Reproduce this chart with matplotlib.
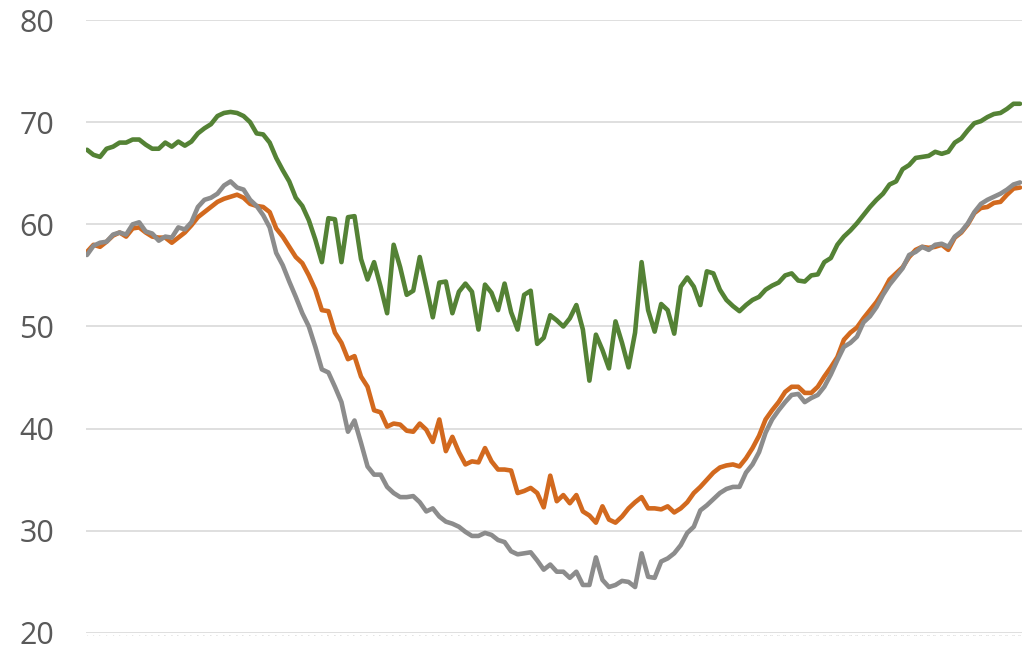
import matplotlib
matplotlib.use("Agg")
import matplotlib.pyplot as plt

# monthly series, 144 points
green = [67.3, 66.8, 66.6, 67.4, 67.6, 68.0, 68.0, 68.3, 68.3, 67.8,
         67.4, 67.4, 68.0, 67.6, 68.1, 67.7, 68.1, 68.9, 69.4, 69.8,
         70.6, 70.9, 71.0, 70.9, 70.6, 70.0, 68.9, 68.8, 68.0, 66.5,
         65.3, 64.2, 62.6, 61.8, 60.4, 58.5, 56.3, 60.6, 60.5, 56.3,
         60.7, 60.8, 56.6, 54.6, 56.3, 53.9, 51.3, 58.0, 55.8, 53.1,
         53.5, 56.8, 53.9, 50.9, 54.3, 54.4, 51.3, 53.4, 54.2, 53.4,
         49.7, 54.1, 53.3, 51.6, 54.2, 51.4, 49.7, 53.1, 53.5, 48.3,
         48.9, 51.1, 50.6, 50.0, 50.8, 52.1, 49.7, 44.7, 49.2, 47.7,
         45.9, 50.5, 48.4, 46.0, 49.4, 56.3, 51.6, 49.5, 52.2, 51.6,
         49.3, 53.9, 54.8, 53.9, 52.1, 55.4, 55.2, 53.6, 52.6, 52.0,
         51.5, 52.1, 52.6, 52.9, 53.6, 54.0, 54.3, 55.0, 55.2, 54.5,
         54.4, 55.0, 55.1, 56.3, 56.7, 58.0, 58.8, 59.4, 60.1, 60.9,
         61.7, 62.4, 63.0, 63.9, 64.2, 65.4, 65.8, 66.5, 66.6, 66.7,
         67.1, 66.9, 67.1, 68.0, 68.4, 69.2, 69.9, 70.1, 70.5, 70.8,
         70.9, 71.3, 71.8, 71.8]

orange = [57.3, 58.0, 57.8, 58.3, 58.9, 59.2, 58.8, 59.6, 59.7, 59.2,
          58.8, 58.7, 58.7, 58.2, 58.7, 59.2, 59.9, 60.7, 61.2, 61.7,
          62.2, 62.5, 62.7, 62.9, 62.6, 62.0, 61.8, 61.7, 61.2, 59.6,
          58.8, 57.8, 56.8, 56.2, 55.0, 53.6, 51.6, 51.5, 49.4, 48.4,
          46.8, 47.1, 45.1, 44.1, 41.8, 41.6, 40.2, 40.5, 40.4, 39.8,
          39.7, 40.5, 39.9, 38.7, 40.9, 37.8, 39.2, 37.7, 36.5, 36.8,
          36.7, 38.1, 36.8, 36.0, 36.0, 35.9, 33.7, 33.9, 34.2, 33.7,
          32.3, 35.4, 32.9, 33.5, 32.7, 33.5, 31.9, 31.5, 30.8, 32.4,
          31.1, 30.8, 31.4, 32.2, 32.8, 33.3, 32.2, 32.2, 32.1, 32.4,
          31.8, 32.2, 32.8, 33.7, 34.3, 35.0, 35.7, 36.2, 36.4, 36.5,
          36.3, 37.1, 38.1, 39.3, 40.9, 41.8, 42.6, 43.6, 44.1, 44.1,
          43.5, 43.5, 44.1, 45.1, 46.0, 47.0, 48.7, 49.4, 49.9, 50.8,
          51.6, 52.4, 53.4, 54.6, 55.2, 55.8, 56.8, 57.5, 57.8, 57.7,
          57.8, 58.0, 57.5, 58.7, 59.2, 60.0, 61.1, 61.6, 61.7, 62.1,
          62.2, 62.9, 63.5, 63.6]

gray = [57.0, 57.9, 58.2, 58.3, 59.0, 59.2, 59.0, 60.0, 60.2, 59.3,
        59.1, 58.4, 58.8, 58.7, 59.7, 59.5, 60.2, 61.7, 62.4, 62.6,
        63.0, 63.8, 64.2, 63.6, 63.4, 62.4, 61.8, 60.9, 59.7, 57.2,
        56.0, 54.4, 52.9, 51.3, 50.0, 48.0, 45.8, 45.5, 44.1, 42.6,
        39.7, 40.8, 38.6, 36.3, 35.5, 35.5, 34.3, 33.7, 33.3, 33.3,
        33.4, 32.8, 31.9, 32.2, 31.4, 30.9, 30.7, 30.4, 29.9, 29.5,
        29.5, 29.8, 29.6, 29.1, 28.9, 28.0, 27.7, 27.8, 27.9, 27.1,
        26.2, 26.7, 26.0, 26.0, 25.4, 26.0, 24.7, 24.7, 27.4, 25.2,
        24.5, 24.7, 25.1, 25.0, 24.5, 27.8, 25.5, 25.4, 27.0, 27.3,
        27.8, 28.6, 29.8, 30.4, 32.0, 32.5, 33.1, 33.7, 34.1, 34.3,
        34.3, 35.7, 36.5, 37.7, 39.6, 40.9, 41.8, 42.6, 43.3, 43.4,
        42.6, 43.0, 43.3, 44.1, 45.3, 46.7, 48.0, 48.4, 49.0, 50.4,
        51.0, 51.9, 53.1, 54.1, 54.9, 55.7, 57.0, 57.3, 57.8, 57.5,
        58.0, 58.1, 57.8, 58.8, 59.3, 60.1, 61.2, 62.0, 62.4, 62.7,
        63.0, 63.4, 63.9, 64.1]

y_ticks = [20, 30, 40, 50, 60, 70, 80]

x = list(range(len(green)))

fig = plt.figure(figsize=(10.26, 6.5), dpi=100)
ax = fig.add_axes([86 / 1026, 17 / 650, 936 / 1026, 613 / 650])

ax.plot(x, green, color='#548235', lw=3.3, solid_joinstyle='round', solid_capstyle='round')
ax.plot(x, orange, color='#D2691E', lw=3.3, solid_joinstyle='round', solid_capstyle='round')
ax.plot(x, gray, color='#8C8C8C', lw=3.3, solid_joinstyle='round', solid_capstyle='round')

ax.set_ylim(20, 80)
ax.set_xlim(-0.15, 143.3)
ax.set_yticks(y_ticks)
ax.set_yticklabels([str(v) for v in y_ticks], fontsize=22, color='#595959',
                   family=['Open Sans', 'DejaVu Sans'])
ax.tick_params(axis='y', length=0, pad=23)

# tiny category labels under the axis, as in the original
ax.set_xticks(x)
ax.set_xticklabels([str(i + 1) for i in x], fontsize=1.5, color='#c8c8c8')
ax.tick_params(axis='x', length=0, pad=1.5)

ax.grid(axis='y', color='#d9d9d9', lw=1.2)
ax.set_axisbelow(True)
for s in ax.spines.values():
    s.set_visible(False)

fig.savefig('out.png', dpi=100)
